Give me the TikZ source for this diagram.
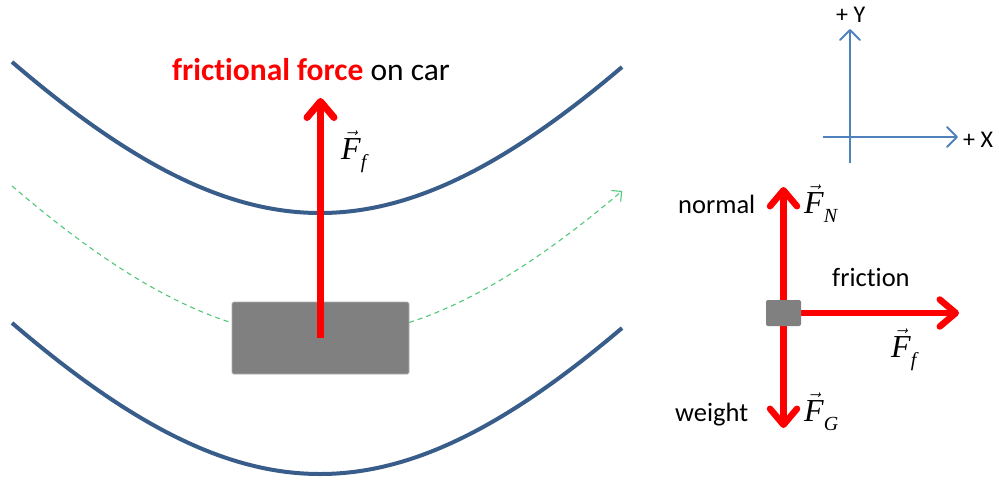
\documentclass[tikz,border=0pt]{standalone}
\usepackage{fontspec}
\newfontfamily\calib[Ligatures=NoCommon]{Carlito}
\newfontfamily\timesit[ItalicFont={Liberation Serif Italic}]{Liberation Serif}
\usetikzlibrary{arrows.meta}
\definecolor{roadblue}{RGB}{56,93,138}
\definecolor{pathgreen}{RGB}{80,200,120}
\definecolor{axisblue}{RGB}{79,129,189}
\definecolor{cargrey}{RGB}{128,128,128}
\definecolor{caredge}{RGB}{175,175,175}
\newcommand\vecF[1]{$\vec{\hbox{\timesit\itshape F}}\hbox{\raisebox{-9pt}{\timesit\itshape\fontsize{20}{22}\selectfont #1}}$}
\tikzset{
  roadline/.style={draw=roadblue, line width=4pt},
  pathline/.style={draw=pathgreen, line width=1.1pt, dash pattern=on 5pt off 4pt,
    -{Straight Barb[length=7pt,width=14pt,line cap=round,line join=round]}},
  forcearrow/.style={draw=red, line width=6.5pt,
    -{Straight Barb[length=16pt,width=27pt,line cap=round,line join=round]}},
  axisarrow/.style={draw=axisblue, line width=2pt,
    -{Straight Barb[length=10pt,width=20pt,line cap=round,line join=round]}},
  carbox/.style={fill=cargrey, draw=caredge, line width=0.6pt, rounded corners=1.5pt, inner sep=0pt},
  bigtext/.style={inner sep=0pt, font=\calib\fontsize{31.5}{36}\selectfont},
  lbltext/.style={inner sep=0pt, font=\calib\fontsize{26.5}{30}\selectfont},
  axtext/.style={inner sep=0pt, font=\calib\fontsize{24}{28}\selectfont},
  vectext/.style={inner sep=0pt, font=\timesit\fontsize{32}{36}\selectfont},
}
\begin{document}
\begin{tikzpicture}[x=1pt,y=-1pt]
\useasboundingbox (0,0) rectangle (999,480);
% roads
\draw[roadline] plot[domain=-308:302,samples=90,smooth] ({320+\x},{213-455*(sqrt(1+(\x/350)^2)-1)});
\draw[roadline] plot[domain=-308:302,samples=90,smooth] ({320+\x},{474-455*(sqrt(1+(\x/350)^2)-1)});
% path of car
\draw[pathline] plot[domain=-308:302,samples=90,smooth] ({320+\x},{337-455*(sqrt(1+(\x/350)^2)-1)});
% car
\node[carbox, minimum width=177pt, minimum height=72pt] (car) at (320.5,338) {};
\coordinate (fftip) at (320.5,98);
\draw[forcearrow, line width=7pt] (car.center) -- (fftip);
\node[bigtext, anchor=base west] (title) at (172,80) {\textcolor{red}{\bfseries frictional force} on car};
\node[vectext, anchor=base west] (ffleft) at (341,159) {\vecF{f}};
% axes
\coordinate (ybot) at (850,163);
\coordinate (ytop) at (850,29);
\coordinate (xleft) at (823,137);
\coordinate (xright) at (958,137);
\draw[axisarrow] (ybot) -- (ytop);
\draw[axisarrow] (xleft) -- (xright);
\node[axtext, anchor=base west] (ylab) at (836,22) {+ Y};
\node[axtext, anchor=base west] (xlab) at (963,147) {+ X};
% free body diagram
\coordinate (ntip) at (783.5,187);
\coordinate (gtip) at (783.5,428);
\coordinate (ftip) at (959,313);
\draw[forcearrow] (783.5,313) -- (ntip);
\draw[forcearrow] (783.5,313) -- (gtip);
\draw[forcearrow] (783.5,313) -- (ftip);
\node[carbox, minimum width=35pt, minimum height=26pt, draw=none, rounded corners=2pt] (box) at (783.5,313) {};
\node[lbltext, anchor=base west] (normal) at (678,213) {normal};
\node[lbltext, anchor=base west] (friction) at (832,286) {friction};
\node[lbltext, anchor=base west] (weight) at (675,421) {weight};
\node[vectext, anchor=base west] (fn) at (804,213) {\vecF{N}};
\node[vectext, anchor=base west] (ffr) at (891,357) {\vecF{f}};
\node[vectext, anchor=base west] (fg) at (804,421) {\vecF{G}};
\end{tikzpicture}
\end{document}
